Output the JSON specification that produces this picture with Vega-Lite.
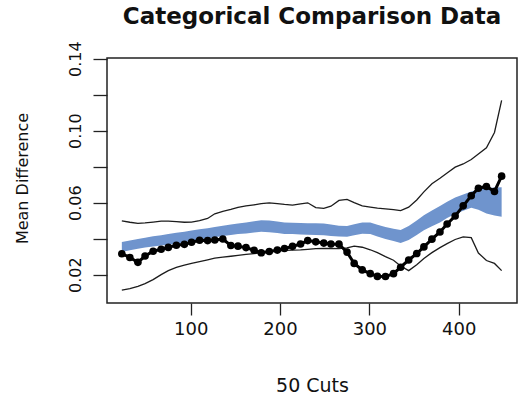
{
  "$schema": "https://vega.github.io/schema/vega-lite/v6.json",
  "width": 410,
  "height": 245,
  "autosize": {"type": "none"},
  "padding": {"left": 107, "top": 58, "right": 6, "bottom": 99},
  "background": "white",
  "title": {
    "text": "Categorical Comparison Data",
    "font": "DejaVu Sans",
    "fontSize": 23,
    "fontWeight": "bold",
    "color": "#111111",
    "frame": "group",
    "anchor": "middle",
    "baseline": "alphabetic",
    "offset": -6
  },
  "config": {
    "view": {"stroke": "#222222", "strokeWidth": 1.5},
    "axis": {
      "grid": false,
      "domain": false,
      "tickColor": "#222222",
      "tickWidth": 1.3,
      "labelColor": "#111111",
      "titleColor": "#111111",
      "labelFont": "DejaVu Sans",
      "titleFont": "DejaVu Sans",
      "titleFontWeight": "normal"
    },
    "axisX": {
      "tickSize": 12,
      "labelPadding": 5,
      "labelFontSize": 18,
      "labelBaseline": "top",
      "titleFontSize": 19,
      "titleBaseline": "alphabetic",
      "titleY": 88
    },
    "axisY": {
      "tickSize": 14,
      "labelPadding": 13,
      "labelFontSize": 16,
      "labelAngle": -90,
      "labelAlign": "center",
      "labelBaseline": "alphabetic",
      "titleFontSize": 16,
      "titleAngle": -90,
      "titleAlign": "center",
      "titleBaseline": "alphabetic",
      "titleX": -80,
      "titleY": 120
    }
  },
  "data": {
    "values": [
      {"cut": 23, "observed": 0.0316, "lower": 0.0114, "upper": 0.0499, "band_lo": 0.0325, "band_hi": 0.0381},
      {"cut": 32, "observed": 0.0295, "lower": 0.0122, "upper": 0.0491, "band_lo": 0.0335, "band_hi": 0.0390},
      {"cut": 41, "observed": 0.0268, "lower": 0.0135, "upper": 0.0485, "band_lo": 0.0343, "band_hi": 0.0398},
      {"cut": 49, "observed": 0.0303, "lower": 0.0150, "upper": 0.0487, "band_lo": 0.0350, "band_hi": 0.0405},
      {"cut": 58, "observed": 0.0330, "lower": 0.0172, "upper": 0.0492, "band_lo": 0.0356, "band_hi": 0.0413},
      {"cut": 67, "observed": 0.0341, "lower": 0.0200, "upper": 0.0497, "band_lo": 0.0361, "band_hi": 0.0419},
      {"cut": 75, "observed": 0.0351, "lower": 0.0222, "upper": 0.0497, "band_lo": 0.0366, "band_hi": 0.0426},
      {"cut": 84, "observed": 0.0363, "lower": 0.0240, "upper": 0.0494, "band_lo": 0.0372, "band_hi": 0.0432},
      {"cut": 93, "observed": 0.0368, "lower": 0.0252, "upper": 0.0491, "band_lo": 0.0380, "band_hi": 0.0438},
      {"cut": 101, "observed": 0.0380, "lower": 0.0262, "upper": 0.0492, "band_lo": 0.0388, "band_hi": 0.0445},
      {"cut": 110, "observed": 0.0391, "lower": 0.0272, "upper": 0.0500, "band_lo": 0.0396, "band_hi": 0.0452},
      {"cut": 119, "observed": 0.0389, "lower": 0.0282, "upper": 0.0512, "band_lo": 0.0401, "band_hi": 0.0458},
      {"cut": 127, "observed": 0.0392, "lower": 0.0291, "upper": 0.0538, "band_lo": 0.0408, "band_hi": 0.0465},
      {"cut": 136, "observed": 0.0398, "lower": 0.0297, "upper": 0.0552, "band_lo": 0.0414, "band_hi": 0.0472},
      {"cut": 145, "observed": 0.0362, "lower": 0.0302, "upper": 0.0562, "band_lo": 0.0420, "band_hi": 0.0478},
      {"cut": 153, "observed": 0.0358, "lower": 0.0307, "upper": 0.0574, "band_lo": 0.0425, "band_hi": 0.0484},
      {"cut": 162, "observed": 0.0350, "lower": 0.0312, "upper": 0.0582, "band_lo": 0.0429, "band_hi": 0.0490},
      {"cut": 171, "observed": 0.0335, "lower": 0.0317, "upper": 0.0588, "band_lo": 0.0434, "band_hi": 0.0497},
      {"cut": 179, "observed": 0.0321, "lower": 0.0321, "upper": 0.0594, "band_lo": 0.0438, "band_hi": 0.0502},
      {"cut": 188, "observed": 0.0328, "lower": 0.0326, "upper": 0.0599, "band_lo": 0.0436, "band_hi": 0.0500},
      {"cut": 197, "observed": 0.0336, "lower": 0.0330, "upper": 0.0595, "band_lo": 0.0431, "band_hi": 0.0495},
      {"cut": 205, "observed": 0.0345, "lower": 0.0334, "upper": 0.0590, "band_lo": 0.0426, "band_hi": 0.0490},
      {"cut": 214, "observed": 0.0357, "lower": 0.0336, "upper": 0.0586, "band_lo": 0.0425, "band_hi": 0.0488},
      {"cut": 223, "observed": 0.0370, "lower": 0.0337, "upper": 0.0593, "band_lo": 0.0423, "band_hi": 0.0487},
      {"cut": 231, "observed": 0.0389, "lower": 0.0340, "upper": 0.0599, "band_lo": 0.0422, "band_hi": 0.0486},
      {"cut": 240, "observed": 0.0382, "lower": 0.0344, "upper": 0.0572, "band_lo": 0.0420, "band_hi": 0.0485},
      {"cut": 249, "observed": 0.0375, "lower": 0.0346, "upper": 0.0568, "band_lo": 0.0419, "band_hi": 0.0484},
      {"cut": 257, "observed": 0.0370, "lower": 0.0345, "upper": 0.0580, "band_lo": 0.0415, "band_hi": 0.0478},
      {"cut": 266, "observed": 0.0369, "lower": 0.0344, "upper": 0.0612, "band_lo": 0.0411, "band_hi": 0.0472},
      {"cut": 275, "observed": 0.0325, "lower": 0.0348, "upper": 0.0618, "band_lo": 0.0410, "band_hi": 0.0470},
      {"cut": 283, "observed": 0.0262, "lower": 0.0358, "upper": 0.0600, "band_lo": 0.0418, "band_hi": 0.0480},
      {"cut": 292, "observed": 0.0226, "lower": 0.0352, "upper": 0.0582, "band_lo": 0.0427, "band_hi": 0.0490},
      {"cut": 301, "observed": 0.0205, "lower": 0.0338, "upper": 0.0575, "band_lo": 0.0425, "band_hi": 0.0490},
      {"cut": 309, "observed": 0.0190, "lower": 0.0322, "upper": 0.0569, "band_lo": 0.0412, "band_hi": 0.0477},
      {"cut": 318, "observed": 0.0189, "lower": 0.0300, "upper": 0.0565, "band_lo": 0.0398, "band_hi": 0.0465},
      {"cut": 327, "observed": 0.0205, "lower": 0.0280, "upper": 0.0561, "band_lo": 0.0386, "band_hi": 0.0455},
      {"cut": 335, "observed": 0.0241, "lower": 0.0248, "upper": 0.0556, "band_lo": 0.0376, "band_hi": 0.0448},
      {"cut": 344, "observed": 0.0281, "lower": 0.0222, "upper": 0.0575, "band_lo": 0.0392, "band_hi": 0.0470},
      {"cut": 353, "observed": 0.0317, "lower": 0.0255, "upper": 0.0615, "band_lo": 0.0420, "band_hi": 0.0500},
      {"cut": 361, "observed": 0.0354, "lower": 0.0290, "upper": 0.0660, "band_lo": 0.0447, "band_hi": 0.0530},
      {"cut": 370, "observed": 0.0397, "lower": 0.0322, "upper": 0.0705, "band_lo": 0.0468, "band_hi": 0.0556},
      {"cut": 379, "observed": 0.0437, "lower": 0.0350, "upper": 0.0735, "band_lo": 0.0490, "band_hi": 0.0581},
      {"cut": 387, "observed": 0.0481, "lower": 0.0372, "upper": 0.0765, "band_lo": 0.0515, "band_hi": 0.0605},
      {"cut": 396, "observed": 0.0526, "lower": 0.0395, "upper": 0.0797, "band_lo": 0.0537, "band_hi": 0.0628},
      {"cut": 405, "observed": 0.0582, "lower": 0.0410, "upper": 0.0815, "band_lo": 0.0555, "band_hi": 0.0645},
      {"cut": 414, "observed": 0.0638, "lower": 0.0405, "upper": 0.0840, "band_lo": 0.0572, "band_hi": 0.0662},
      {"cut": 422, "observed": 0.0680, "lower": 0.0320, "upper": 0.0870, "band_lo": 0.0560, "band_hi": 0.0672},
      {"cut": 431, "observed": 0.0690, "lower": 0.0278, "upper": 0.0905, "band_lo": 0.0540, "band_hi": 0.0680},
      {"cut": 440, "observed": 0.0662, "lower": 0.0262, "upper": 0.0990, "band_lo": 0.0528, "band_hi": 0.0684},
      {"cut": 448, "observed": 0.0747, "lower": 0.0222, "upper": 0.1169, "band_lo": 0.0521, "band_hi": 0.0685}
    ]
  },
  "encoding": {
    "x": {
      "field": "cut",
      "type": "quantitative",
      "title": "50 Cuts",
      "scale": {"domain": [6.4, 465.2], "nice": false, "zero": false},
      "axis": {"values": [100, 200, 300, 400]}
    }
  },
  "layer": [
    {
      "mark": {"type": "area", "color": "#6f94cd", "opacity": 1},
      "encoding": {
        "y": {
          "field": "band_lo",
          "type": "quantitative",
          "title": "Mean Difference",
          "scale": {"domain": [0.0042, 0.1404], "nice": false, "zero": false},
          "axis": {"values": [0.02, 0.04, 0.06, 0.08, 0.1, 0.12, 0.14], "labelExpr": "indexof(['0.02','0.06','0.10','0.14'], format(datum.value, '.2f')) >= 0 ? format(datum.value, '.2f') : ''"}
        },
        "y2": {"field": "band_hi"}
      }
    },
    {
      "mark": {"type": "line", "color": "#1c1c1c", "strokeWidth": 1.3},
      "encoding": {
        "y": {"field": "upper", "type": "quantitative", "title": "Mean Difference"}
      }
    },
    {
      "mark": {"type": "line", "color": "#1c1c1c", "strokeWidth": 1.3},
      "encoding": {
        "y": {"field": "lower", "type": "quantitative", "title": "Mean Difference"}
      }
    },
    {
      "mark": {"type": "line", "color": "#000000", "strokeWidth": 3},
      "encoding": {
        "y": {"field": "observed", "type": "quantitative", "title": "Mean Difference"}
      }
    },
    {
      "mark": {"type": "point", "filled": true, "color": "#000000", "size": 58, "opacity": 1},
      "encoding": {
        "y": {"field": "observed", "type": "quantitative", "title": "Mean Difference"}
      }
    }
  ]
}
